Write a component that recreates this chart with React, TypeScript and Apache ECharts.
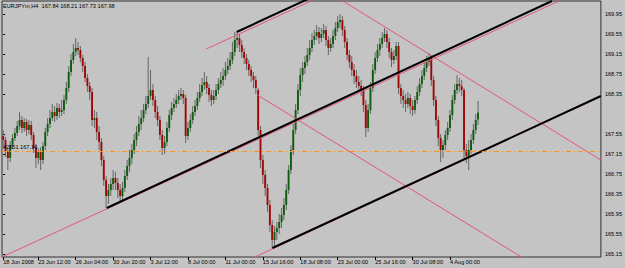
import React, { useEffect, useRef } from "react";
import * as echarts from "echarts";

const SYMBOL = "EURJPYm,H4";
const SLOTS = 256;

const opens = [
167.51,167.43,167.19,167.07,167.33,167.47,167.57,167.71,167.83,167.67,
167.79,167.63,167.73,167.53,167.27,167.07,167.19,167.03,167.31,167.59,
167.75,167.87,167.99,167.91,168.07,167.99,168.03,168.23,168.47,168.79,
169.03,169.19,169.27,169.23,169.07,168.91,168.67,168.51,168.39,167.83,
167.87,167.59,167.39,167.03,166.63,166.31,166.43,166.55,166.67,166.57,
166.43,166.31,166.47,166.71,166.91,167.07,167.23,167.43,167.59,167.75,
167.87,168.03,168.15,168.31,168.43,168.23,167.99,167.83,167.53,167.27,
167.39,167.67,167.93,168.07,168.15,168.23,168.31,168.35,168.27,167.51,
167.67,167.83,167.99,168.11,168.27,168.39,168.53,168.59,168.47,168.33,
168.23,168.31,168.43,168.55,168.63,168.71,168.83,168.91,169.03,169.19,
169.43,169.47,169.33,169.19,169.07,168.95,168.83,168.71,168.63,168.43,
167.63,167.03,166.73,166.47,166.13,165.73,165.43,165.59,165.67,165.79,
165.93,166.13,166.43,166.83,167.23,167.63,168.03,168.43,168.73,168.87,
168.99,169.13,169.27,169.43,169.51,169.59,169.47,169.55,169.63,169.43,
169.27,169.35,169.51,169.67,169.79,169.83,169.63,169.39,169.13,168.99,
168.83,168.71,168.59,168.51,168.43,168.13,167.67,168.03,168.47,168.83,
169.07,169.23,169.35,169.47,169.55,169.39,169.19,169.03,169.11,169.31,
168.47,168.31,168.23,168.15,168.27,168.11,168.03,168.23,168.39,168.55,
168.71,168.87,168.99,169.07,168.63,168.23,167.83,167.47,167.23,167.33,
167.53,167.67,167.93,168.23,168.43,168.55,168.51,168.43,167.23,167.11,
167.23,167.43,167.63,167.84];

const closes = [
167.43,167.19,167.07,167.33,167.47,167.57,167.71,167.83,167.67,167.79,
167.63,167.73,167.53,167.27,167.07,167.19,167.03,167.31,167.59,167.75,
167.87,167.99,167.91,168.07,167.99,168.03,168.23,168.47,168.79,169.03,
169.19,169.27,169.23,169.07,168.91,168.67,168.51,168.39,167.83,167.87,
167.59,167.39,167.03,166.63,166.31,166.43,166.55,166.67,166.57,166.43,
166.31,166.47,166.71,166.91,167.07,167.23,167.43,167.59,167.75,167.87,
168.03,168.15,168.31,168.43,168.23,167.99,167.83,167.53,167.27,167.39,
167.67,167.93,168.07,168.15,168.23,168.31,168.35,168.27,167.51,167.67,
167.83,167.99,168.11,168.27,168.39,168.53,168.59,168.47,168.33,168.23,
168.31,168.43,168.55,168.63,168.71,168.83,168.91,169.03,169.19,169.43,
169.47,169.33,169.19,169.07,168.95,168.83,168.71,168.63,168.47,167.63,
167.03,166.73,166.47,166.13,165.73,165.43,165.59,165.67,165.79,165.93,
166.13,166.43,166.83,167.23,167.63,168.03,168.43,168.73,168.87,168.99,
169.13,169.27,169.43,169.51,169.59,169.47,169.55,169.63,169.43,169.27,
169.35,169.51,169.67,169.79,169.83,169.63,169.39,169.13,168.99,168.83,
168.71,168.59,168.51,168.43,168.13,167.67,168.03,168.47,168.83,169.07,
169.23,169.35,169.47,169.55,169.39,169.19,169.03,169.11,169.31,168.47,
168.31,168.23,168.15,168.27,168.11,168.03,168.23,168.39,168.55,168.71,
168.87,168.99,169.07,168.63,168.23,167.83,167.47,167.23,167.33,167.53,
167.67,167.93,168.23,168.43,168.55,168.51,168.43,167.23,167.11,167.23,
167.43,167.63,167.83,167.98];

const lows = [
167.31,167.09,166.83,166.99,167.25,167.41,167.51,167.63,167.57,167.59,
167.51,167.55,167.43,167.17,166.87,166.95,166.83,166.95,167.23,167.51,
167.67,167.81,167.79,167.83,167.87,167.91,167.95,168.15,168.39,168.71,
168.95,169.11,169.13,168.99,168.79,168.59,168.39,168.23,167.71,167.67,
167.43,167.23,166.91,166.51,166.07,166.15,166.31,166.43,166.43,166.27,
166.17,166.19,166.39,166.63,166.79,166.95,167.15,167.31,167.51,167.63,
167.79,167.95,168.07,168.23,168.11,167.87,167.71,167.43,167.13,167.15,
167.31,167.59,167.83,167.99,168.07,168.15,168.23,168.15,167.37,167.43,
167.59,167.75,167.91,168.03,168.19,168.31,168.43,168.35,168.19,168.11,
168.15,168.23,168.35,168.47,168.51,168.63,168.75,168.83,168.95,169.11,
169.27,169.19,169.07,168.95,168.83,168.71,168.59,168.47,168.35,167.51,
166.87,166.55,166.31,165.99,165.59,165.27,165.31,165.43,165.55,165.67,
165.83,166.03,166.35,166.75,167.13,167.55,167.95,168.31,168.59,168.75,
168.91,169.03,169.19,169.33,169.43,169.35,169.39,169.47,169.31,169.13,
169.19,169.27,169.43,169.59,169.67,169.51,169.27,169.03,168.87,168.71,
168.55,168.47,168.39,168.31,167.99,167.49,167.59,167.95,168.39,168.75,
168.99,169.11,169.27,169.39,169.27,169.07,168.89,168.95,169.03,168.35,
168.15,168.07,167.99,168.07,167.95,167.91,167.95,168.15,168.31,168.47,
168.63,168.79,168.91,168.51,168.11,167.71,167.31,166.99,167.07,167.23,
167.43,167.59,167.83,168.15,168.35,168.39,168.31,167.07,166.97,166.83,
167.15,167.35,167.55,167.73];

const highs = [
167.63,167.49,167.27,167.41,167.55,167.67,167.81,167.99,167.91,167.87,
167.85,167.83,167.81,167.59,167.35,167.27,167.29,167.39,167.67,167.87,
168.03,168.15,168.11,168.17,168.15,168.23,168.33,168.59,168.91,169.15,
169.35,169.47,169.39,169.31,169.13,168.99,168.75,168.59,168.47,168.03,
167.99,167.71,167.47,167.11,166.71,166.55,166.67,166.83,166.79,166.67,
166.55,166.59,166.83,167.03,167.23,167.35,167.55,167.71,167.91,168.03,
168.15,168.31,169.09,168.83,168.55,168.31,168.11,167.91,167.63,167.51,
167.79,168.03,168.19,168.27,168.35,168.43,168.47,168.43,168.33,167.79,
167.95,168.11,168.23,168.39,168.55,168.67,168.79,168.71,168.55,168.43,
168.43,168.55,168.67,168.79,168.87,168.99,169.07,169.19,169.39,169.59,
169.57,169.55,169.43,169.27,169.15,169.03,168.91,168.79,168.71,168.47,
167.71,167.13,166.83,166.55,166.23,165.83,165.71,165.79,165.95,166.07,
166.27,166.55,166.93,167.33,167.75,168.15,168.55,168.87,168.99,169.11,
169.27,169.43,169.57,169.63,169.73,169.69,169.67,169.75,169.71,169.51,
169.47,169.63,169.79,169.91,169.95,169.91,169.71,169.47,169.23,169.11,
168.95,168.83,168.71,168.63,168.51,168.23,168.15,168.59,168.95,169.19,
169.35,169.47,169.59,169.67,169.63,169.47,169.27,169.23,169.39,169.39,
168.55,168.43,168.35,168.39,168.35,168.23,168.31,168.51,168.67,168.83,
168.99,169.11,169.17,169.13,168.71,168.31,167.91,167.55,167.43,167.63,
167.79,168.03,168.33,168.55,168.73,168.67,168.63,168.47,167.35,167.43,
167.55,167.75,167.95,168.21];

const tickBars = [0, 15, 31, 47, 63, 79, 95, 111, 127, 143, 159, 175, 191];
const tickLabels = [
  "18 Jun 2008", "23 Jun 12:00", "26 Jun 04:00", "30 Jun 20:00", "3 Jul 12:00",
  "8 Jul 00:00", "11 Jul 00:00", "15 Jul 16:00", "18 Jul 08:00", "23 Jul 00:00",
  "25 Jul 16:00", "30 Jul 08:00", "4 Aug 00:00",
];
const priceTicks = [169.95, 169.55, 169.15, 168.75, 168.35, 167.55, 167.15, 166.75, 166.35, 165.95, 165.55, 165.15];
const priceMin = 165.09;
const priceMax = 170.21;

// trend lines: [barIndex, price] anchor pairs
const blackLines = [
  [[44.3, 166.07], [234.6, 170.21]],
  [[115.1, 165.27], [255.5, 168.31]],
  [[99.8, 169.59], [140, 170.46]],
];
const pinkLines = [
  [[-0.5, 165.09], [237.6, 170.21]],
  [[105.3, 165.04], [255.5, 168.3]],
  [[86.8, 169.25], [140, 170.39]],
  [[140, 170.36], [255.5, 167.03]],
  [[108.7, 168.33], [225, 164.99]],
];
const orderLevel = 167.21;
const orderText = "#2551 167.14";

const BG = "#c4c4c4";
const BULL = "#0c5e0c";
const BEAR = "#a00808";
const WICK = "#666666";
const PINK = "#e2587a";
const ORANGE = "#f59428";
const FONT = "'Liberation Sans', Arial, sans-serif";
const FS = 5.6;

export default function App() {
  const ref = useRef<HTMLDivElement>(null);
  useEffect(() => {
    if (!ref.current) return;
    const chart = echarts.init(ref.current, null, { renderer: "svg" });
    const last = opens.length - 1;
    const candleData = opens.map((o, i) => [i, o, closes[i], lows[i], highs[i]]);
    const BODY_W = 1.9;
    const renderCandle = (_p: any, api: any) => {
      const i = api.value(0);
      const o = api.value(1);
      const c = api.value(2);
      const l = api.value(3);
      const h = api.value(4);
      const pH = api.coord([i, h]);
      const pL = api.coord([i, l]);
      const pO = api.coord([i, o]);
      const pC = api.coord([i, c]);
      const top = Math.min(pO[1], pC[1]);
      const hgt = Math.max(1, Math.abs(pO[1] - pC[1]));
      return {
        type: "group",
        children: [
          { type: "line", shape: { x1: pH[0], y1: pH[1], x2: pL[0], y2: pL[1] }, style: { stroke: WICK, lineWidth: 1 } },
          { type: "rect", shape: { x: pO[0] - BODY_W / 2, y: top, width: BODY_W, height: hgt }, style: { fill: c >= o ? BULL : BEAR } },
        ],
      };
    };
    const lineSeries = (pts: number[][], color: string, width: number, z: number) => ({
      type: "line",
      data: pts,
      symbol: "none",
      silent: true,
      clip: true,
      z,
      lineStyle: { color, width },
    });
    const option: any = {
      animation: false,
      backgroundColor: BG,
      textStyle: { fontFamily: FONT },
      grid: { left: 2, right: 23, top: 1, bottom: 11, show: true, borderColor: "#303030", borderWidth: 1, backgroundColor: "transparent" },
      xAxis: {
        type: "value",
        min: -0.5,
        max: SLOTS - 0.5,
        axisLine: { show: false },
        splitLine: { show: false },
        axisTick: { show: true, customValues: tickBars, length: 3, lineStyle: { color: "#000" } },
        axisLabel: {
          customValues: tickBars,
          formatter: (v: number) => tickLabels[tickBars.indexOf(Math.round(v))] ?? "",
          align: "left",
          fontSize: FS,
          fontFamily: FONT,
          color: "#000",
          margin: 2,
        },
      },
      yAxis: {
        type: "value",
        position: "right",
        min: priceMin,
        max: priceMax,
        axisLine: { show: false },
        splitLine: { show: false },
        axisTick: { show: true, customValues: priceTicks, length: 2, lineStyle: { color: "#000" } },
        axisLabel: {
          customValues: priceTicks,
          formatter: (v: number) => v.toFixed(2),
          fontSize: FS,
          fontFamily: FONT,
          color: "#000",
          margin: 4,
        },
      },
      graphic: [
        {
          type: "text",
          left: 3,
          top: 3,
          style: {
            text: `${SYMBOL}  ${opens[last].toFixed(2)} ${highs[last].toFixed(2)} ${lows[last].toFixed(2)} ${closes[last].toFixed(2)}`,
            fontSize: FS,
            fontFamily: FONT,
            fill: "#000",
          },
        },
      ],
      series: [
        {
          type: "custom",
          renderItem: renderCandle,
          data: candleData,
          encode: { x: 0, y: [1, 2, 3, 4] },
          clip: true,
          z: 2,
        },
        ...pinkLines.map((p) => lineSeries(p, PINK, 1, 3)),
        ...blackLines.map((p) => lineSeries(p, "#000", 2, 4)),
        {
          type: "line",
          data: [],
          z: 5,
          markLine: {
            silent: true,
            symbol: "none",
            animation: false,
            data: [
              {
                yAxis: orderLevel,
                lineStyle: { color: ORANGE, type: [5, 3, 1, 3], width: 1, opacity: 1 },
                label: { show: true, position: "insideStartTop", formatter: orderText, fontSize: FS, fontFamily: FONT, color: "#000", distance: 1 },
              },
              {
                yAxis: closes[last],
                lineStyle: { opacity: 0 },
                label: {
                  show: true,
                  position: "end",
                  formatter: closes[last].toFixed(2),
                  backgroundColor: "#000",
                  color: "#fff",
                  padding: [1, 2, 1, 2],
                  fontSize: FS,
                  fontFamily: FONT,
                  distance: 1,
                },
              },
            ],
          },
        },
      ],
    };
    chart.setOption(option);
    return () => chart.dispose();
  }, []);
  return <div ref={ref} style={{ position: "fixed", left: 0, top: 0, width: 625, height: 268 }} />;
}
